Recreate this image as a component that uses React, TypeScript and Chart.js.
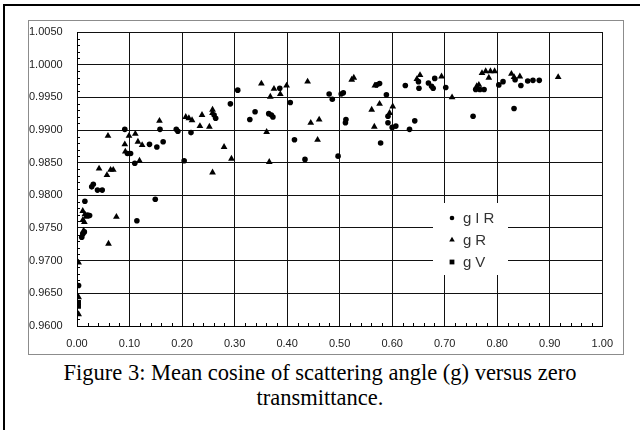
import React, { useEffect, useRef } from "react";
import { Chart, registerables } from "chart.js";

Chart.register(...registerables);

// ---- data ----
const seriesNames = ["gIR", "gR", "gV"];

const gIR: [number, number][] = [
  [0.003, 0.9662], [0.009, 0.9736], [0.011, 0.9741], [0.014, 0.9744], [0.020, 0.9770],
  [0.024, 0.9769], [0.015, 0.9791], [0.028, 0.9813], [0.031, 0.9817], [0.039, 0.9808],
  [0.048, 0.9808], [0.091, 0.9901], [0.096, 0.9864], [0.102, 0.9864], [0.110, 0.9849],
  [0.114, 0.9761], [0.138, 0.9878], [0.149, 0.9794], [0.152, 0.9874], [0.158, 0.9901],
  [0.164, 0.9882], [0.189, 0.9901], [0.192, 0.9898], [0.204, 0.9853], [0.217, 0.9896],
  [0.261, 0.9923], [0.264, 0.9918], [0.292, 0.9940], [0.306, 0.9961], [0.329, 0.9916],
  [0.339, 0.9928], [0.365, 0.9925], [0.370, 0.9923], [0.373, 0.9920], [0.386, 0.9964],
  [0.406, 0.9942], [0.414, 0.9885], [0.434, 0.9855], [0.480, 0.9955], [0.486, 0.9947],
  [0.497, 0.9860], [0.503, 0.9955], [0.507, 0.9957], [0.511, 0.9911], [0.512, 0.9916],
  [0.570, 0.9969], [0.576, 0.9971], [0.578, 0.9880], [0.589, 0.9954], [0.592, 0.9921],
  [0.592, 0.9911], [0.600, 0.9904], [0.607, 0.9906], [0.625, 0.9968], [0.633, 0.9901],
  [0.643, 0.9914], [0.650, 0.9974], [0.651, 0.9964], [0.669, 0.9972], [0.675, 0.9967],
  [0.678, 0.9964], [0.681, 0.9979], [0.702, 0.9965], [0.754, 0.9921], [0.759, 0.9962],
  [0.767, 0.9962], [0.775, 0.9962], [0.803, 0.9969], [0.811, 0.9974], [0.832, 0.9933],
  [0.834, 0.9977], [0.845, 0.9968], [0.858, 0.9975], [0.868, 0.9976], [0.880, 0.9976],
];

const gR: [number, number][] = [
  [0.003, 0.9697], [0.003, 0.9644], [0.003, 0.9618], [0.011, 0.9776], [0.015, 0.9771],
  [0.011, 0.9762], [0.017, 0.9767], [0.014, 0.9759], [0.0126, 0.9746], [0.042, 0.9841],
  [0.057, 0.9831], [0.064, 0.9839], [0.069, 0.9839], [0.059, 0.9891], [0.060, 0.9726],
  [0.075, 0.9767], [0.091, 0.9878], [0.092, 0.9867], [0.099, 0.9891], [0.111, 0.9894],
  [0.116, 0.9882], [0.119, 0.9853], [0.124, 0.9877], [0.157, 0.9914], [0.207, 0.9920],
  [0.213, 0.9918], [0.219, 0.9915], [0.234, 0.9906], [0.238, 0.9923], [0.252, 0.9905],
  [0.258, 0.9931], [0.258, 0.9926], [0.258, 0.9835], [0.280, 0.9874], [0.294, 0.9856],
  [0.351, 0.9971], [0.361, 0.9897], [0.366, 0.9851], [0.368, 0.9951], [0.375, 0.9963],
  [0.387, 0.9955], [0.399, 0.9968], [0.439, 0.9974], [0.445, 0.9911], [0.458, 0.9885],
  [0.461, 0.9916], [0.523, 0.9977], [0.527, 0.9980], [0.561, 0.9931], [0.566, 0.9905],
  [0.567, 0.9968], [0.576, 0.9940], [0.595, 0.9926], [0.601, 0.9936], [0.647, 0.9978],
  [0.653, 0.9984], [0.694, 0.9982], [0.714, 0.9950], [0.761, 0.9967], [0.765, 0.9969],
  [0.771, 0.9987], [0.778, 0.9990], [0.787, 0.9990], [0.795, 0.9990], [0.784, 0.9980],
  [0.827, 0.9986], [0.832, 0.9981], [0.843, 0.9982], [0.916, 0.9981],
];

const gV: [number, number][] = [
  [0.003, 0.9636], [0.003, 0.9630],
];

const xRange = [0, 1, 0.1];
const yRange = [0.96, 1.005, 0.005];
const xMinorStep = 0.02;
const yMinorStep = 0.001;

const captionLines = [
  "Figure 3: Mean cosine of scattering angle (g) versus zero",
  "transmittance.",
];

const FONT = "'Liberation Sans', Arial, sans-serif";

function drawMarker(ctx: CanvasRenderingContext2D, style: string, x: number, y: number, r: number) {
  ctx.beginPath();
  if (style === "circle") {
    ctx.arc(x, y, r, 0, Math.PI * 2);
  } else if (style === "triangle") {
    ctx.moveTo(x, y - r);
    ctx.lineTo(x + r * 0.866, y + r * 0.5);
    ctx.lineTo(x - r * 0.866, y + r * 0.5);
    ctx.closePath();
  } else {
    const s = r * 0.75;
    ctx.rect(x - s, y - s, 2 * s, 2 * s);
  }
  ctx.fill();
}

const minorTicksPlugin = {
  id: "minorTicks",
  afterDatasetsDraw(chart: any) {
    const ctx = chart.ctx;
    const xs = chart.scales.x;
    const ys = chart.scales.y;
    const area = chart.chartArea;
    ctx.save();
    ctx.strokeStyle = "#000";
    ctx.lineWidth = 1;
    ctx.beginPath();
    const nY = Math.round((yRange[1] - yRange[0]) / yMinorStep);
    for (let i = 1; i < nY; i++) {
      if (i % 5 === 0) continue;
      const py = Math.round(ys.getPixelForValue(yRange[0] + i * yMinorStep)) + 0.5;
      ctx.moveTo(area.left, py);
      ctx.lineTo(area.left + 3, py);
    }
    const nX = Math.round((xRange[1] - xRange[0]) / xMinorStep);
    for (let i = 1; i < nX; i++) {
      if (i % 5 === 0) continue;
      const px = Math.round(xs.getPixelForValue(xRange[0] + i * xMinorStep)) + 0.5;
      ctx.moveTo(px, area.bottom);
      ctx.lineTo(px, area.bottom - 3);
    }
    ctx.stroke();
    ctx.restore();
  },
};

const innerLegendPlugin = {
  id: "innerLegend",
  afterDatasetsDraw(chart: any) {
    const ctx = chart.ctx as CanvasRenderingContext2D;
    ctx.save();
    ctx.fillStyle = "#fff";
    ctx.fillRect(405, 183, 75, 72);
    const rows = [198, 220, 242];
    chart.data.datasets.forEach((ds: any, i: number) => {
      ctx.fillStyle = "#000";
      drawMarker(ctx, ds.pointStyle, 424, rows[i], ds.pointStyle === "circle" ? 2.3 : 3.2);
      ctx.fillStyle = "#333";
      ctx.font = `15px ${FONT}`;
      (ctx as any).letterSpacing = "4px";
      ctx.textBaseline = "middle";
      ctx.textAlign = "left";
      ctx.fillText(ds.label, 435, rows[i] + 1);
    });
    ctx.restore();
  },
};

export default function App() {
  const ref = useRef<HTMLCanvasElement | null>(null);

  useEffect(() => {
    if (!ref.current) return;
    const toPts = (a: [number, number][]) => a.map(([x, y]) => ({ x, y }));
    const chart = new Chart(ref.current, {
      type: "scatter",
      data: {
        datasets: [
          { label: seriesNames[0], data: toPts(gIR), pointStyle: "circle", pointRadius: 2.8, backgroundColor: "#000", borderColor: "#000", borderWidth: 0 },
          { label: seriesNames[1], data: toPts(gR), pointStyle: "triangle", pointRadius: 3.9, backgroundColor: "#000", borderColor: "#000", borderWidth: 0 },
          { label: seriesNames[2], data: toPts(gV), pointStyle: "rect", pointRadius: 3.4, backgroundColor: "#000", borderColor: "#000", borderWidth: 0 },
        ],
      },
      options: {
        animation: false,
        responsive: false,
        devicePixelRatio: 1,
        layout: { padding: { left: 1, top: 12, right: 13, bottom: 0 } },
        plugins: { legend: { display: false }, tooltip: { enabled: false } },
        scales: {
          x: {
            type: "linear",
            min: xRange[0],
            max: xRange[1],
            afterFit: (s: any) => { s.height = 29; },
            ticks: {
              stepSize: xRange[2],
              padding: 11,
              color: "#222",
              font: { family: FONT, size: 11 },
              maxRotation: 0,
              callback: (v: any) => Number(v).toFixed(2),
            },
            grid: { color: "#111", lineWidth: 1, drawTicks: false },
            border: { color: "#000", width: 1 },
          },
          y: {
            type: "linear",
            min: yRange[0],
            max: yRange[1],
            afterFit: (s: any) => { s.width = 48; },
            ticks: {
              stepSize: yRange[2],
              padding: 4,
              crossAlign: "far",
              color: "#222",
              font: { family: FONT, size: 11 },
              callback: (v: any) => Number(v).toFixed(4),
            },
            grid: { color: "#111", lineWidth: 1, drawTicks: false },
            border: { color: "#000", width: 1 },
          },
        },
      },
      plugins: [minorTicksPlugin, innerLegendPlugin],
    } as any);
    return () => chart.destroy();
  }, []);

  return (
    <div style={{ position: "absolute", left: 0, top: 0, width: 640, height: 430, background: "#fff", overflow: "hidden" }}>
      <div style={{ position: "absolute", left: 3, top: 4, width: 637, height: 2, background: "#000" }} />
      <div style={{ position: "absolute", left: 3, top: 4, width: 2, height: 426, background: "#000" }} />
      <div style={{ position: "absolute", left: 28, top: 20, width: 596, height: 335, border: "1px solid #8c8c8c", boxSizing: "border-box" }} />
      <canvas ref={ref} width={596} height={335} style={{ position: "absolute", left: 28, top: 20, width: 596, height: 335 }} />
      <div style={{ position: "absolute", left: 0, top: 360, width: 640, textAlign: "center", fontFamily: "'Liberation Serif', 'Times New Roman', serif", fontSize: 22.5, lineHeight: "25px", color: "#000" }}>
        {captionLines.map((l, i) => (<div key={i}>{l}</div>))}
      </div>
    </div>
  );
}
